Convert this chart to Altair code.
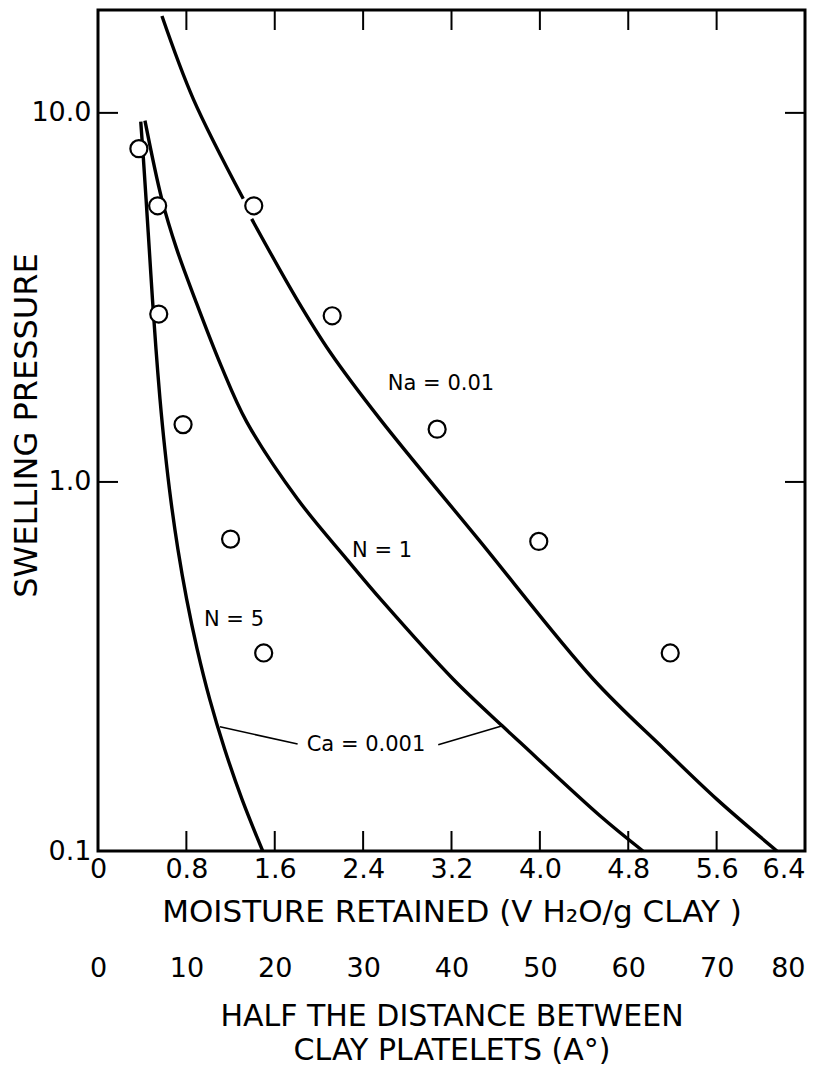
import altair as alt
import pandas as pd

# ---------------- data ----------------
x_ticks = [0, 0.8, 1.6, 2.4, 3.2, 4.0, 4.8, 5.6, 6.4]
d_ticks = [0, 10, 20, 30, 40, 50, 60, 70, 80]
y_ticks = [0.1, 1.0, 10.0]

# measured points (moisture retained, swelling pressure)
pt_x = [0.37, 0.54, 1.41, 0.55, 2.12, 0.77, 3.07, 1.20, 3.99, 1.50, 5.18]
pt_y = [8.0, 5.6, 5.6, 2.85, 2.82, 1.43, 1.39, 0.70, 0.69, 0.344, 0.344]

# theoretical curves
na_x_a = [0.579, 0.863, 1.315]
na_y_a = [18.3, 10.9, 5.85]
na_x_b = [1.391, 1.799, 2.100, 2.553, 3.440, 4.484, 5.124, 5.603, 6.146]
na_y_b = [5.16, 3.13, 2.25, 1.48, 0.701, 0.292, 0.189, 0.138, 0.1]

n1_x = [0.425, 0.577, 0.712, 0.878, 1.113, 1.346, 1.806, 2.251, 2.580, 3.216, 3.654, 3.820, 4.544, 4.933]
n1_y = [9.53, 5.85, 4.28, 3.13, 2.07, 1.455, 0.899, 0.618, 0.473, 0.292, 0.219, 0.197, 0.1246, 0.1]

n5_x = [0.387, 0.411, 0.435, 0.464, 0.493, 0.525, 0.561, 0.605, 0.658, 0.723, 0.802, 0.897, 1.011, 1.146, 1.304, 1.491]
n5_y = [9.47, 7.50, 5.85, 4.28, 3.13, 2.29, 1.68, 1.229, 0.899, 0.658, 0.482, 0.353, 0.258, 0.189, 0.138, 0.1]

# curve labels
lab_text = ["Na = 0.01", "N = 1", "N = 5", "Ca = 0.001"]
lab_x = [3.105, 2.571, 1.231, 2.426]
lab_y = [1.84, 0.650, 0.423, 0.194]

# leader lines for the Ca label
lead_seg = ["L", "L", "R", "R"]
lead_x = [1.104, 1.807, 3.080, 3.654]
lead_y = [0.217, 0.195, 0.194, 0.218]

# ---------------- tables ----------------
curves = pd.concat([
    pd.DataFrame({"x": na_x_a, "y": na_y_a, "seg": "na_a"}),
    pd.DataFrame({"x": na_x_b, "y": na_y_b, "seg": "na_b"}),
    pd.DataFrame({"x": n1_x, "y": n1_y, "seg": "n1"}),
    pd.DataFrame({"x": n5_x, "y": n5_y, "seg": "n5"}),
], ignore_index=True)
points = pd.DataFrame({"x": pt_x, "y": pt_y})
labels = pd.DataFrame({"x": lab_x, "y": lab_y, "t": lab_text})
leaders = pd.DataFrame({"x": lead_x, "y": lead_y, "seg": lead_seg})
inner_xt = pd.DataFrame({"v": x_ticks[1:-1]})
inner_yt = pd.DataFrame({"v": y_ticks[1:]})
sec = pd.DataFrame({"d": d_ticks})

W, H = 707, 841
FONT = "DejaVu Sans"
TICK = 20

xscale = alt.Scale(domain=[0, 6.4], nice=False, zero=False)
yscale = alt.Scale(type="log", domain=[0.1, 19.0], nice=False)

x_axis = alt.Axis(
    values=x_ticks, labelExpr="datum.value == 0 ? '0' : format(datum.value, '.1f')",
    ticks=False, domain=False, grid=False, labelFlush=False, labelOverlap=False,
    labelAlign={"condition": {"test": "datum.value >= 6.39", "value": "right"}, "value": "center"},
    labelFontSize=27, labelPadding=5, labelColor="black",
    titleFontSize=31, titlePadding=15, titleFontWeight="normal", titleColor="black",
)
y_axis = alt.Axis(
    values=y_ticks, format=".1f", ticks=False, domain=False, grid=False,
    labelFlush=False, labelOverlap=False, labelFontSize=27, labelPadding=7,
    labelColor="black", titleFontSize=32, titleFontWeight="normal",
    titleColor="black", titleX=-72, titleY=415, titleAngle=270,
    titleAlign="center", titleBaseline="middle",
)

X = alt.X("x:Q", scale=xscale, axis=x_axis, title="MOISTURE RETAINED (V H\u2082O/g CLAY )")
Y = alt.Y("y:Q", scale=yscale, axis=y_axis, title="SWELLING PRESSURE")

lines = alt.Chart(curves).mark_line(color="black", strokeWidth=3.4, interpolate="catmull-rom").encode(
    x=X, y=Y, detail="seg:N", order="x:Q")

lead = alt.Chart(leaders).mark_line(color="black", strokeWidth=1.6).encode(
    x=alt.X("x:Q", scale=xscale), y=alt.Y("y:Q", scale=yscale), detail="seg:N")

pts = alt.Chart(points).mark_point(shape="circle", filled=True, fill="white", stroke="black",
                                   strokeWidth=2.2, size=290, opacity=1).encode(
    x=alt.X("x:Q", scale=xscale), y=alt.Y("y:Q", scale=yscale))

txt = alt.Chart(labels).mark_text(font=FONT, fontSize=21, color="black").encode(
    x=alt.X("x:Q", scale=xscale), y=alt.Y("y:Q", scale=yscale), text="t:N")

tick_kw = dict(color="black", strokeWidth=2)
bot_t = alt.Chart(inner_xt).mark_rule(**tick_kw).encode(
    x=alt.X("v:Q", scale=xscale), y=alt.value(H - TICK), y2=alt.value(H))
top_t = alt.Chart(inner_xt).mark_rule(**tick_kw).encode(
    x=alt.X("v:Q", scale=xscale), y=alt.value(0), y2=alt.value(TICK))
left_t = alt.Chart(inner_yt).mark_rule(**tick_kw).encode(
    y=alt.Y("v:Q", scale=yscale), x=alt.value(0), x2=alt.value(TICK))
right_t = alt.Chart(inner_yt).mark_rule(**tick_kw).encode(
    y=alt.Y("v:Q", scale=yscale), x=alt.value(W - TICK), x2=alt.value(W))

inner = alt.layer(lines, lead, pts, txt, bot_t, top_t, left_t, right_t)

sec_layer = alt.Chart(sec).mark_point(opacity=0).encode(
    x=alt.X("d:Q", scale=alt.Scale(domain=[0, 80], nice=False, zero=False),
            axis=alt.Axis(orient="bottom", offset=100, values=d_ticks, format="d",
                          ticks=False, domain=False, grid=False, labelFlush=False,
                          labelOverlap=False,
                          labelAlign={"condition": {"test": "datum.value >= 80", "value": "right"}, "value": "center"},
                          labelFontSize=27, labelPadding=4,
                          labelColor="black", titleFontSize=30, titlePadding=20,
                          titleFontWeight="normal", titleColor="black", titleLineHeight=34),
            title=["HALF THE DISTANCE BETWEEN", "CLAY PLATELETS (A\u00b0)"]),
    y=alt.value(0))

chart = alt.layer(inner, sec_layer).resolve_scale(x="independent").properties(
    width=W, height=H,
    autosize=alt.AutoSizeParams(type="none"),
    padding={"left": 90, "top": 2, "right": 14, "bottom": 216},
    background="white",
).configure_view(stroke="black", strokeWidth=3).configure_axis(
    labelFont=FONT, titleFont=FONT)

chart.save("out.html", embed_options={"renderer": "svg", "actions": False})
